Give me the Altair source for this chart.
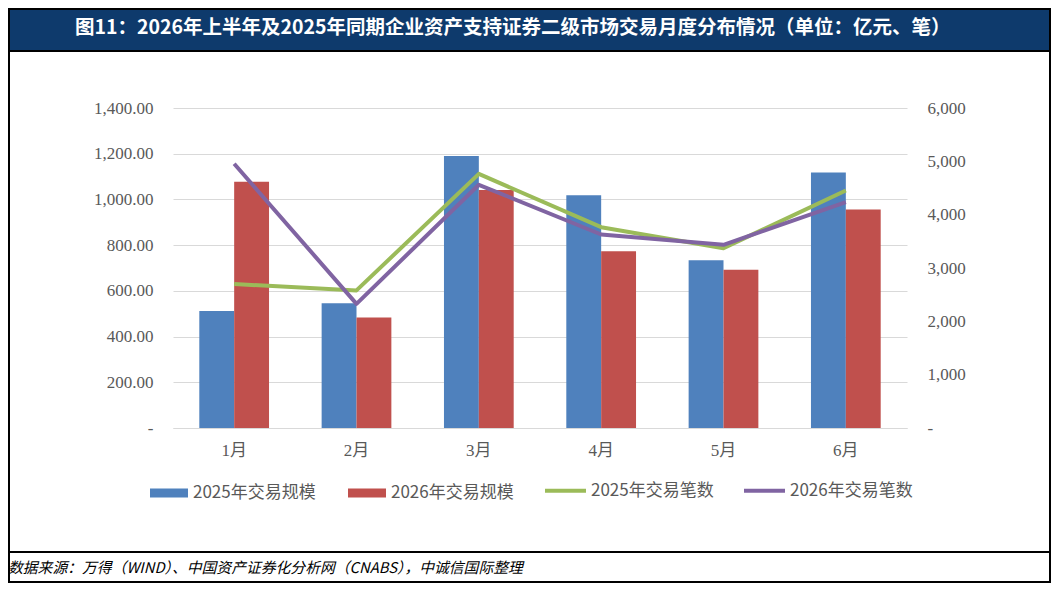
import altair as alt
import pandas as pd

months = ["1月", "2月", "3月", "4月", "5月", "6月"]
bar_series = ["2025年交易规模", "2026年交易规模"]
line_series = ["2025年交易笔数", "2026年交易笔数"]
scale_2025 = [512, 546, 1190, 1018, 734, 1118]
scale_2026 = [1077, 483, 1041, 773, 692, 956]
count_2025 = [2700, 2580, 4765, 3765, 3372, 4453]
count_2026 = [4955, 2328, 4560, 3628, 3434, 4234]

title_text = "图11：2026年上半年及2025年同期企业资产支持证券二级市场交易月度分布情况（单位：亿元、笔）"
source_text = "数据来源：万得（WIND）、中国资产证券化分析网（CNABS），中诚信国际整理"

bar_rows = []
for i, m in enumerate(months):
    bar_rows.append({"month": m, "series": bar_series[0], "value": scale_2025[i]})
    bar_rows.append({"month": m, "series": bar_series[1], "value": scale_2026[i]})
line_rows = []
for i, m in enumerate(months):
    line_rows.append({"month": m, "series": line_series[0], "value": count_2025[i]})
    line_rows.append({"month": m, "series": line_series[1], "value": count_2026[i]})
bars_df = pd.DataFrame(bar_rows)
lines_df = pd.DataFrame(line_rows)

LABEL_FONT = "Liberation Serif, Noto Sans CJK SC"
CJK = "Noto Sans CJK SC"
GRAY = "#595959"
GRID = "#d9d9d9"

x_enc = alt.X(
    "month:N",
    sort=months,
    title=None,
    scale=alt.Scale(paddingInner=0.43, paddingOuter=0.215),
    axis=alt.Axis(
        labelAngle=0, labelFontSize=17, labelColor=GRAY, labelFont=LABEL_FONT,
        ticks=False, domainColor=GRID, labelPadding=14, grid=False,
    ),
)

bars = alt.Chart(bars_df).mark_bar().encode(
    x=x_enc,
    xOffset=alt.XOffset("series:N", sort=bar_series, scale=alt.Scale(paddingInner=0, paddingOuter=0)),
    y=alt.Y(
        "value:Q",
        title=None,
        scale=alt.Scale(domain=[0, 1400], nice=False),
        axis=alt.Axis(
            orient="left", values=[0, 200, 400, 600, 800, 1000, 1200, 1400],
            labelExpr="datum.value == 0 ? '-' : format(datum.value, ',.2f')",
            labelFontSize=17, labelColor=GRAY, labelFont=LABEL_FONT,
            ticks=False, domain=False, gridColor=GRID, gridWidth=1.2, labelPadding=20,
        ),
    ),
    fill=alt.Fill(
        "series:N",
        sort=bar_series,
        scale=alt.Scale(domain=bar_series, range=["#4f81bd", "#c0504d"]),
        legend=alt.Legend(
            orient="none", legendX=-23, legendY=366, direction="horizontal", title=None,
            symbolType="M-1,-0.24H1V0.24H-1Z", symbolSize=1444, symbolStrokeWidth=0,
            labelFontSize=17, labelColor=GRAY, labelFont=CJK, labelOffset=5,
            columnPadding=32, padding=0,
        ),
    ),
)

lines = alt.Chart(lines_df).mark_line(strokeWidth=4, strokeJoin="round").encode(
    x=alt.X("month:N", sort=months),
    y=alt.Y(
        "value:Q",
        title=None,
        scale=alt.Scale(domain=[0, 6000], nice=False),
        axis=alt.Axis(
            orient="right", values=[0, 1000, 2000, 3000, 4000, 5000, 6000],
            labelExpr="datum.value == 0 ? '-' : format(datum.value, ',')",
            labelFontSize=17, labelColor=GRAY, labelFont=LABEL_FONT,
            ticks=False, domain=False, grid=False, labelPadding=20,
        ),
    ),
    stroke=alt.Stroke(
        "series:N",
        sort=line_series,
        scale=alt.Scale(domain=line_series, range=["#9bbb59", "#8064a2"]),
        legend=alt.Legend(
            orient="none", legendX=370, legendY=360, direction="horizontal", title=None,
            symbolType="stroke", symbolSize=1681, symbolStrokeWidth=4,
            labelFontSize=17, labelColor=GRAY, labelFont=CJK, labelOffset=3,
            columnPadding=22, padding=0,
        ),
    ),
)

one = alt.Data(values=[{"k": 1}])

title_bar = alt.Chart(one).mark_rect(color="#0e3a6c", stroke="black", strokeWidth=2).encode(
    x=alt.value(-164), x2=alt.value(877), y=alt.value(-99), y2=alt.value(-57)
)
title_label = alt.Chart(one).mark_text(
    align="left", baseline="middle", color="white", font=CJK, fontWeight="bold", fontSize=19.5
).encode(x=alt.value(-98), y=alt.value(-80), text=alt.value(title_text))

frame = alt.Chart(one).mark_rect(fill="transparent", stroke="black", strokeWidth=2).encode(
    x=alt.value(-164), x2=alt.value(877), y=alt.value(-99), y2=alt.value(474)
)
sep = alt.Chart(one).mark_rule(color="black", strokeWidth=2).encode(
    x=alt.value(-165), x2=alt.value(878), y=alt.value(444)
)
source = alt.Chart(one).mark_text(
    align="left", baseline="middle", color="black", font=CJK, fontStyle="italic", fontSize=14.8
).encode(x=alt.value(-165), y=alt.value(461), text=alt.value(source_text))

chart = alt.layer(
    title_bar, frame, sep, title_label, source, bars, lines
).resolve_scale(
    y="independent", fill="independent", stroke="independent"
).properties(
    width=734, height=320,
    autosize=alt.AutoSizeParams(type="none"),
    padding={"left": 165, "top": 100, "right": 144, "bottom": 155},
    background="white",
).configure_view(stroke=None)

chart.save("out.html", embed_options={"renderer": "svg", "actions": False})
